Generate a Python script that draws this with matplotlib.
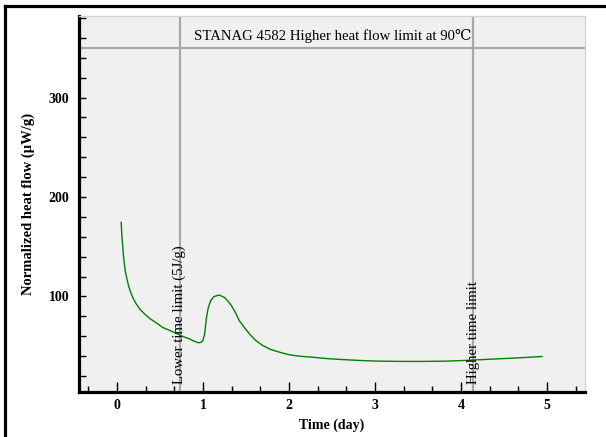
import matplotlib.pyplot as plt
from matplotlib.lines import Line2D
from matplotlib.ticker import MultipleLocator

# heat flow curve
time_day = [0.05, 0.058, 0.07, 0.079, 0.089, 0.10, 0.116, 0.135, 0.159, 0.19, 0.225,
            0.27, 0.321, 0.38, 0.476, 0.53, 0.61, 0.69, 0.76, 0.84, 0.90, 0.95,
            0.98, 1.00, 1.02, 1.04, 1.06, 1.09, 1.13, 1.19, 1.25, 1.29, 1.33, 1.38,
            1.42, 1.48, 1.54, 1.61, 1.69, 1.78, 1.89, 2.00, 2.12, 2.27, 2.45, 2.66,
            2.85, 3.05, 3.25, 3.43, 3.62, 3.82, 4.01, 4.21, 4.40, 4.59, 4.77, 4.94]
heat_flow = [174.5, 161, 148, 139, 131, 124.5, 118, 111, 104.5, 98, 92.5,
             87, 82.5, 78, 72.5, 69, 66, 63, 60, 57.5, 55, 53.5,
             54, 56, 62, 78, 88, 96, 100, 101.5, 99, 95.5, 91, 83.5,
             76, 69, 62.5, 56, 51, 47, 44, 41.5, 40, 39, 37.5, 36.4,
             35.6, 35, 34.8, 34.7, 34.8, 35, 35.6, 36.4, 37.2, 38, 38.8, 39.7]

heat_limit = 350
lower_time = 0.73
higher_time = 4.14

serif = ['Liberation Serif', 'DejaVu Serif']

fig = plt.figure(figsize=(6.06, 4.37), dpi=100)
ax = fig.add_axes([0.1304, 0.103, 0.8349, 0.8604])
ax.set_facecolor('#f0f0f0')

ax.axhline(heat_limit, color='#a8a8a8', lw=1.6, zorder=1)
ax.axvline(lower_time, color='#a8a8a8', lw=1.6, zorder=1)
ax.axvline(higher_time, color='#a8a8a8', lw=1.6, zorder=1)

ax.plot(time_day, heat_flow, color='#008000', lw=1.0, zorder=3)

ax.text(2.51, 362, 'STANAG 4582 Higher heat flow limit at 90\u2103',
        ha='center', va='center', fontsize=10.65, family=serif)
ax.text(lower_time, 12.5, 'Lower time limit (5J/g)', rotation=90,
        ha='center', va='bottom', fontsize=10.6, family=serif, zorder=4)
ax.text(higher_time, 12.5, 'Higher time limit', rotation=90,
        ha='center', va='bottom', fontsize=10.6, family=serif, zorder=4)

ax.set_xlim(-0.44, 5.44)
ax.set_ylim(4, 382)
ax.xaxis.set_major_locator(MultipleLocator(1))
ax.xaxis.set_minor_locator(MultipleLocator(1 / 3))
ax.yaxis.set_major_locator(MultipleLocator(100))
ax.yaxis.set_minor_locator(MultipleLocator(20))
ax.set_yticks([100, 200, 300])

ax.tick_params(axis='x', which='major', direction='in', length=7, width=1, pad=5)
ax.tick_params(axis='x', which='minor', direction='in', length=4.5, width=1)
ax.tick_params(axis='y', which='both', direction='in', length=5, width=1, pad=7)
for lab in ax.get_xticklabels() + ax.get_yticklabels():
    lab.set_family(serif)
    lab.set_fontweight('bold')
    lab.set_fontsize(10)

for side in ['left', 'bottom']:
    ax.spines[side].set_linewidth(2.3)
    ax.spines[side].set_color('black')
for side in ['top', 'right']:
    ax.spines[side].set_linewidth(1)
    ax.spines[side].set_color('#d4d4d4')

ax.set_xlabel('Time (day)', fontsize=10, fontweight='bold', family=serif, labelpad=5)
ax.set_ylabel('Normalized heat flow (\u00b5W/g)', fontsize=10.5, fontweight='bold',
              family=serif, labelpad=10)

# outer frame (top and left edges)
fig.add_artist(Line2D([0.008, 1.0], [0.986, 0.986], color='black', lw=2.3,
                      transform=fig.transFigure))
fig.add_artist(Line2D([0.008, 0.008], [0.0, 0.986], color='black', lw=2.3,
                      transform=fig.transFigure))

fig.savefig('out.png', dpi=100)
